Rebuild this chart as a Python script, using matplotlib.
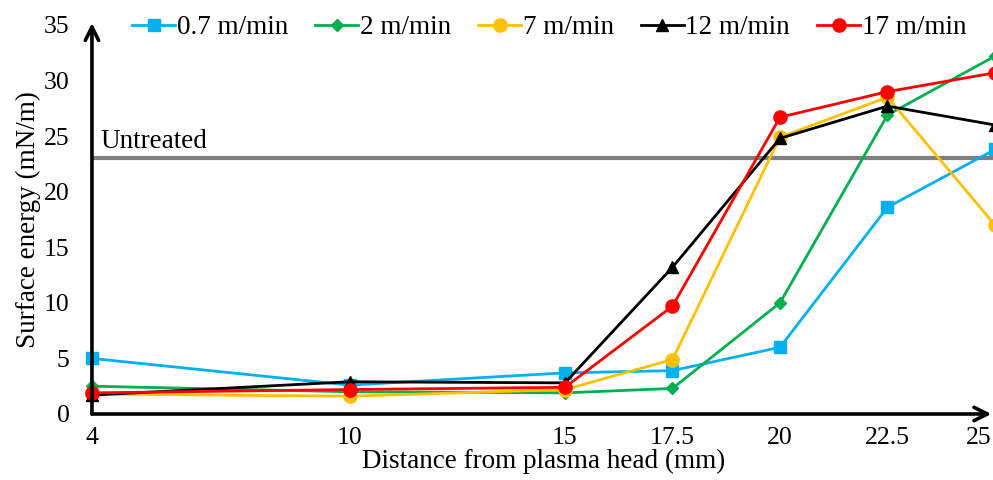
import matplotlib
matplotlib.use('Agg')
from matplotlib import pyplot as plt
from matplotlib.transforms import ScaledTranslation

plt.rcParams['font.family'] = ['Liberation Serif', 'DejaVu Serif']

# 距离 (mm)
distance = [4, 10, 15, 17.5, 20, 22.5, 25]
# 各速度下的表面能 (mN/m)
speed_labels = ['0.7 m/min', '2 m/min', '7 m/min', '12 m/min', '17 m/min']
energy_07 = [5.0, 2.6, 3.7, 3.9, 6.0, 18.6, 23.8]
energy_2 = [2.5, 2.0, 1.9, 2.3, 10.0, 26.9, 32.2]
energy_7 = [1.8, 1.6, 2.2, 4.9, 24.9, 28.5, 17.0]
energy_12 = [1.7, 2.9, 2.8, 13.2, 24.8, 27.7, 26.0]
energy_17 = [1.9, 2.2, 2.4, 9.7, 26.7, 29.0, 30.7]
untreated = 23.0

colors = ['#00B0F0', '#00B050', '#FFC000', '#000000', '#FF0000']
markers = ['s', 'D', 'o', '^', 'o']
msizes = [8.5, 6.5, 9.5, 8.5, 9.5]

fig = plt.figure(figsize=(9.93, 4.8), dpi=100)
ax = fig.add_axes([0.0926, 0.1375, 0.9094, 0.8105])

series = [energy_07, energy_2, energy_7, energy_12, energy_17]
for vals, lab, c, m, ms in zip(series, speed_labels, colors, markers, msizes):
    ax.plot(distance, vals, color=c, marker=m, markersize=ms, linewidth=2,
            label=lab, clip_on=False, zorder=3)

ax.axhline(untreated, color='#7F7F7F', linewidth=3, zorder=2)
ax.text(4.2, untreated + 0.4, 'Untreated', fontsize=19.5, va='bottom', ha='left')

ax.set_xlim(4, 25)
ax.set_ylim(0, 35)
ax.set_xticks(distance)
ax.set_xticklabels(['4', '10', '15', '17.5', '20', '22.5', '25'])
ax.set_yticks(range(0, 36, 5))
ax.tick_params(axis='both', length=0, labelsize=18.5)
ax.tick_params(axis='y', pad=16)
ax.tick_params(axis='x', pad=9)
# 最后一个刻度标签往左挪一点，免得被裁掉
last = ax.get_xticklabels()[-1]
last.set_transform(last.get_transform() + ScaledTranslation(-0.16, 0, fig.dpi_scale_trans))

for s in ['top', 'right', 'left', 'bottom']:
    ax.spines[s].set_visible(False)

# 坐标轴箭头
ax.annotate('', xy=(0, 1.005), xytext=(0, 0), xycoords='axes fraction',
            arrowprops=dict(arrowstyle='->', lw=2.6, color='black',
                            mutation_scale=24, shrinkA=0, shrinkB=0))
ax.annotate('', xy=(0.996, 0), xytext=(0, 0), xycoords='axes fraction',
            arrowprops=dict(arrowstyle='->', lw=2.6, color='black',
                            mutation_scale=24, shrinkA=0, shrinkB=0))

ax.set_xlabel('Distance from plasma head (mm)', fontsize=19.5, labelpad=0)
ax.set_ylabel('Surface energy (mN/m)', fontsize=19.5, labelpad=2)

fig.legend(loc='center left', bbox_to_anchor=(0.133, 0.942), ncol=5, frameon=False,
           fontsize=19.5, handlelength=1.6, handletextpad=0.05, columnspacing=1.0,
           borderaxespad=0, borderpad=0)

fig.savefig('out.png', dpi=100)
